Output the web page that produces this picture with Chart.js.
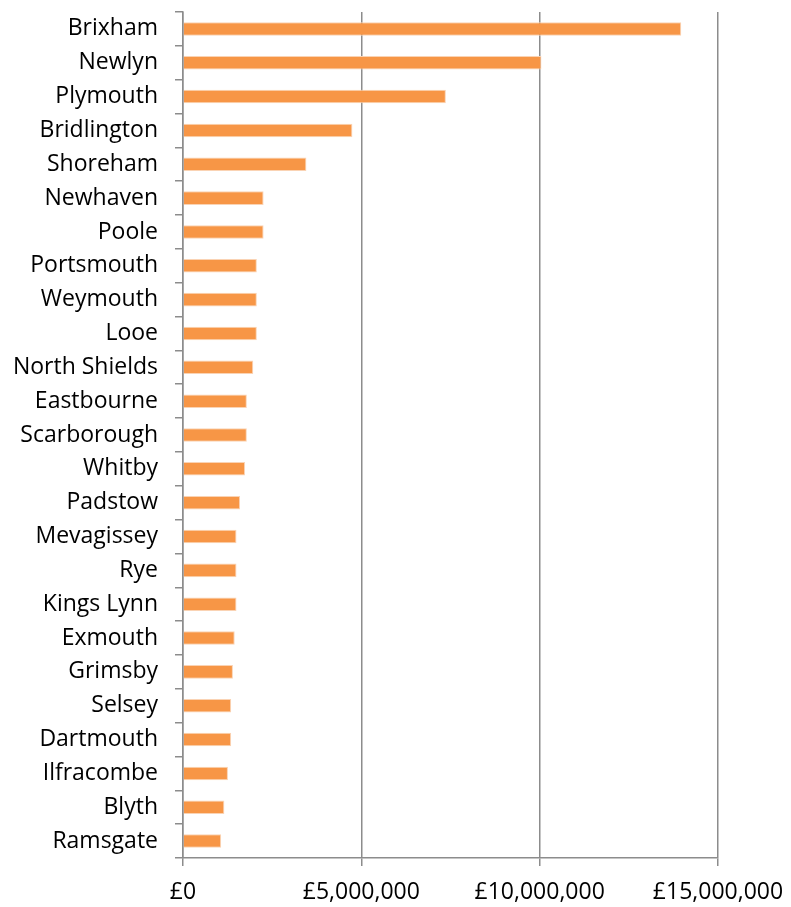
<!DOCTYPE html>
<html>
<head>
<meta charset="utf-8">
<script src="https://cdn.jsdelivr.net/npm/chart.js@4.4.1/dist/chart.umd.min.js"></script>
<style>
  html, body { margin: 0; padding: 0; background: #ffffff; }
  #wrap { width: 791px; height: 907px; position: relative; }
</style>
</head>
<body>
<div id="wrap"><canvas id="c" width="791" height="907"></canvas></div>
<script>
// Fishing ports by value of landings (£)
const ports = [
  'Brixham', 'Newlyn', 'Plymouth', 'Bridlington', 'Shoreham', 'Newhaven', 'Poole',
  'Portsmouth', 'Weymouth', 'Looe', 'North Shields', 'Eastbourne', 'Scarborough',
  'Whitby', 'Padstow', 'Mevagissey', 'Rye', 'Kings Lynn', 'Exmouth', 'Grimsby',
  'Selsey', 'Dartmouth', 'Ilfracombe', 'Blyth', 'Ramsgate'
];
const landingsValue = [
  13970000, 10050000, 7370000, 4750000, 3460000, 2260000, 2260000,
  2070000, 2070000, 2070000, 1970000, 1790000, 1790000,
  1740000, 1600000, 1500000, 1500000, 1500000, 1450000, 1400000,
  1350000, 1350000, 1260000, 1160000, 1070000
];
const valueTicks = [0, 5000000, 10000000, 15000000];

const axisGrey = '#8c8c8c';
const fontFamily = '"Open Sans", Lato, sans-serif';

new Chart(document.getElementById('c'), {
  type: 'bar',
  data: {
    labels: ports,
    datasets: [{
      data: landingsValue,
      backgroundColor: '#F79646',
      borderColor: '#FAD3B4',
      borderWidth: { top: 1, bottom: 1, right: 1, left: 0 },
      borderSkipped: 'left',
      categoryPercentage: 1.0,
      barPercentage: 0.4
    }]
  },
  options: {
    indexAxis: 'y',
    responsive: false,
    animation: false,
    layout: { padding: { top: 0, right: 0, left: 0, bottom: 0 } },
    plugins: { legend: { display: false }, tooltip: { enabled: false } },
    scales: {
      x: {
        min: 0,
        max: 15000000,
        afterBuildTicks: (scale) => { scale.ticks = valueTicks.map(v => ({ value: v })); },
        afterFit: (scale) => { scale.height = 49; scale.paddingRight = 73; },
        grid: {
          color: axisGrey,
          lineWidth: 1.5,
          drawOnChartArea: true,
          drawTicks: true,
          tickLength: 8
        },
        border: { color: axisGrey, width: 1.5 },
        ticks: {
          color: '#000000',
          padding: 13,
          maxRotation: 0,
          font: { family: fontFamily, size: 23 },
          callback: (v) => '£' + Number(v).toLocaleString('en-GB')
        }
      },
      y: {
        offset: true,
        afterFit: (scale) => { scale.width = 183; scale.paddingTop = 12; scale.paddingBottom = 0; },
        grid: {
          offset: true,
          color: axisGrey,
          lineWidth: 1.5,
          drawOnChartArea: false,
          drawTicks: true,
          tickLength: 8
        },
        border: { color: axisGrey, width: 1.5 },
        ticks: {
          color: '#000000',
          padding: 17,
          autoSkip: false,
          font: { family: fontFamily, size: 23 }
        }
      }
    }
  }
});
</script>
</body>
</html>
